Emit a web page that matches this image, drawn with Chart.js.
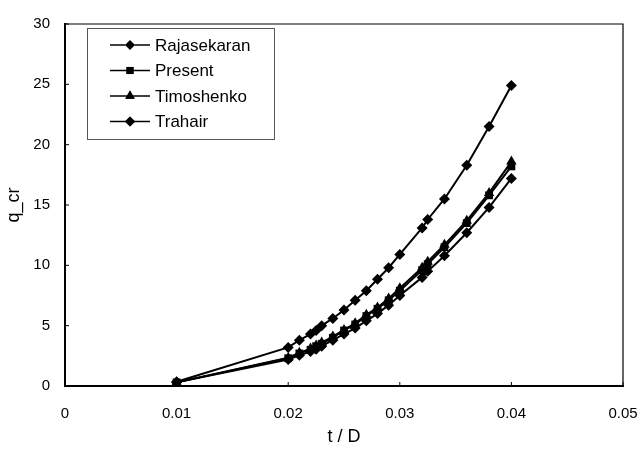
<!DOCTYPE html>
<html>
<head>
<meta charset="utf-8">
<script src="https://cdn.jsdelivr.net/npm/chart.js@4.4.1/dist/chart.umd.min.js"></script>
<style>
  html, body { margin: 0; padding: 0; background: #fff; }
  #wrap { width: 643px; height: 455px; }
</style>
</head>
<body>
<div id="wrap"><canvas id="chart" width="643" height="455"></canvas></div>
<script>
// t / D values shared by all series
const tOverD = [0.01, 0.02, 0.021, 0.022, 0.0225, 0.023, 0.024, 0.025, 0.026, 0.027,
  0.028, 0.029, 0.03, 0.032, 0.0325, 0.034, 0.036, 0.038, 0.04];

const rajasekaran = [0.35, 3.2, 3.8, 4.3, 4.6, 5.0, 5.6, 6.3, 7.1, 7.9,
  8.85, 9.8, 10.9, 13.1, 13.8, 15.5, 18.3, 21.5, 24.9];
const present = [0.3, 2.3, 2.7, 3.0, 3.3, 3.5, 4.0, 4.6, 5.1, 5.8,
  6.4, 7.1, 7.9, 9.6, 10.1, 11.5, 13.5, 15.8, 18.2];
const timoshenko = [0.3, 2.35, 2.75, 3.1, 3.35, 3.6, 4.1, 4.65, 5.2, 5.9,
  6.5, 7.25, 8.1, 9.8, 10.3, 11.7, 13.7, 16.0, 18.6];
const trahair = [0.3, 2.2, 2.55, 2.85, 3.05, 3.3, 3.8, 4.3, 4.8, 5.4,
  6.0, 6.7, 7.5, 9.0, 9.5, 10.8, 12.7, 14.8, 17.2];

const seriesNames = ["Rajasekaran", "Present", "Timoshenko", "Trahair"];
const seriesValues = [rajasekaran, present, timoshenko, trahair];
const seriesMarkers = ["rectRot", "rect", "triangle", "rectRot"];
const markerSizes = [5.5, 5.5, 6, 5.5];

const font = "'Liberation Sans', Arial, sans-serif";

const datasets = seriesNames.map((name, i) => ({
  label: name,
  data: tOverD.map((t, j) => ({ x: t, y: seriesValues[i][j] })),
  showLine: true,
  borderColor: "#000",
  backgroundColor: "#000",
  borderWidth: 2,
  pointStyle: seriesMarkers[i],
  pointRadius: markerSizes[i],
  pointBorderWidth: 0,
  pointBackgroundColor: "#000",
}));

// frame on top/right plus small inward tick marks
const framePlugin = {
  id: "frame",
  afterDraw(chart) {
    const { ctx, chartArea: a, scales } = chart;
    ctx.save();
    ctx.strokeStyle = "#000";
    ctx.lineWidth = 1.2;
    ctx.beginPath();
    ctx.moveTo(a.left, a.top);
    ctx.lineTo(a.right, a.top);
    ctx.lineTo(a.right, a.bottom);
    ctx.stroke();
    ctx.lineWidth = 1;
    ctx.beginPath();
    scales.x.ticks.forEach(tk => {
      const px = scales.x.getPixelForValue(tk.value);
      ctx.moveTo(px, a.bottom);
      ctx.lineTo(px, a.bottom - 4);
    });
    scales.y.ticks.forEach(tk => {
      const py = scales.y.getPixelForValue(tk.value);
      ctx.moveTo(a.left, py);
      ctx.lineTo(a.left + 4, py);
    });
    ctx.stroke();
    ctx.restore();
  },
};

// legend box drawn inside the plot area
const boxLegend = {
  id: "boxLegend",
  afterDraw(chart) {
    const { ctx, chartArea: a } = chart;
    const left = a.left + 22, top = a.top + 4, w = 187, h = 111;
    ctx.save();
    ctx.fillStyle = "#fff";
    ctx.fillRect(left, top, w, h);
    ctx.strokeStyle = "#555";
    ctx.lineWidth = 1;
    ctx.strokeRect(left + 0.5, top + 0.5, w, h);
    ctx.font = "17px " + font;
    ctx.textBaseline = "middle";
    chart.data.datasets.forEach((ds, i) => {
      const y = top + 17 + i * 25.5;
      ctx.strokeStyle = "#000";
      ctx.lineWidth = 1.5;
      ctx.beginPath();
      ctx.moveTo(left + 23, y);
      ctx.lineTo(left + 63, y);
      ctx.stroke();
      Chart.helpers.drawPoint(ctx, {
        pointStyle: ds.pointStyle,
        radius: ds.pointRadius - 0.5,
        rotation: 0,
        borderWidth: 0,
      }, left + 43, y);
      ctx.fillStyle = "#000";
      ctx.fill();
      ctx.fillText(ds.label, left + 68, y + 1);
    });
    ctx.restore();
  },
};

new Chart(document.getElementById("chart"), {
  type: "scatter",
  data: { datasets },
  options: {
    responsive: false,
    animation: false,
    layout: { padding: { left: 0, right: 20, top: 21, bottom: 0 } },
    plugins: {
      legend: { display: false },
      tooltip: { enabled: false },
    },
    scales: {
      x: {
        type: "linear",
        min: 0,
        max: 0.05,
        afterFit: s => { s.height = 69; s.paddingLeft = 0; s.paddingRight = 0; },
        grid: { display: false, drawTicks: false },
        border: { color: "#000", width: 2 },
        ticks: {
          stepSize: 0.01,
          padding: 19,
          color: "#000",
          font: { family: font, size: 15 },
          maxRotation: 0,
          callback: v => (v === 0 ? "0" : Number(v).toFixed(2)),
        },
        title: {
          display: true,
          text: "t / D",
          color: "#000",
          font: { family: font, size: 18 },
          padding: { top: 0, bottom: 7 },
        },
      },
      y: {
        min: 0,
        max: 30,
        afterFit: s => { s.width = 65; },
        grid: { display: false, drawTicks: false },
        border: { color: "#000", width: 2 },
        ticks: {
          stepSize: 5,
          padding: 15,
          color: "#000",
          font: { family: font, size: 15 },
        },
        title: {
          display: true,
          text: "q_cr",
          color: "#000",
          font: { family: font, size: 18 },
          padding: { top: 3, bottom: 0 },
        },
      },
    },
  },
  plugins: [framePlugin, boxLegend],
});
</script>
</body>
</html>
